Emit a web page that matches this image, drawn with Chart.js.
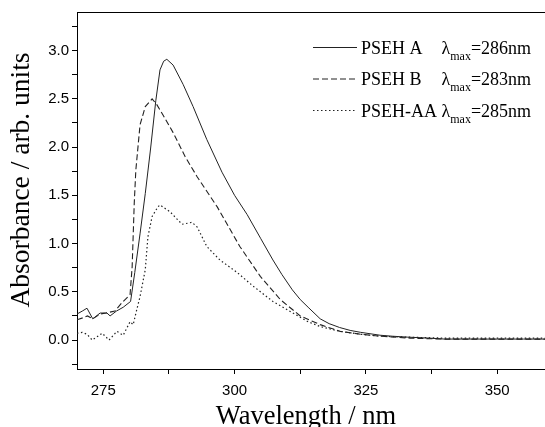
<!DOCTYPE html>
<html>
<head>
<meta charset="utf-8">
<script src="https://cdn.jsdelivr.net/npm/chart.js@4"></script>
<style>
html,body{margin:0;padding:0;background:#fff;overflow:hidden;}
#wrap{width:545px;height:427px;position:relative;}
</style>
</head>
<body>
<div id="wrap"><canvas id="c"></canvas></div>
<script>
// ---- data ----
const seriesNames = ["PSEH A", "PSEH B", "PSEH-AA"];
const lambdaMax = ["=286nm", "=283nm", "=285nm"];

const wlA = [270,271,271.9,273,274.4,275.7,276.3,277.5,278.8,280.2,281,282,283,284,285,285.8,286.5,287.1,288.3,290.2,292.1,294.7,297.6,300,302.4,305,307.3,309,311,312.5,314,316.3,318,320,322,324,327.7,330,333,337,340,345,350,355,360];
const absA = [0.27,0.30,0.33,0.22,0.28,0.28,0.25,0.30,0.34,0.40,0.70,1.10,1.52,1.98,2.48,2.80,2.89,2.91,2.85,2.65,2.42,2.08,1.74,1.50,1.30,1.05,0.83,0.68,0.52,0.42,0.34,0.22,0.17,0.13,0.10,0.08,0.05,0.04,0.03,0.02,0.01,0.01,0.01,0.01,0.01];

const wlB = [270,271.1,272,273,274.4,275.5,277.2,278.6,280.1,280.5,280.9,281.2,282,283,284.3,285.2,286.4,288.3,290.6,292.9,296.7,301,304.9,308.7,312.5,316.3,320.1,324,327.7,333.4,340,350,360];
const absB = [0.21,0.23,0.25,0.22,0.27,0.28,0.30,0.39,0.47,0.76,1.42,1.76,2.23,2.42,2.50,2.44,2.33,2.15,1.90,1.69,1.38,0.97,0.66,0.42,0.25,0.16,0.09,0.06,0.04,0.02,0.01,0.01,0.01];

const wlC = [270,271,271.9,272.9,274.8,276.1,277.6,278.8,280.1,280.7,281.4,282,283,283.5,284.3,285.4,285.8,287.7,290,291.9,292.9,294.7,297.2,300.5,303.5,307.3,311.1,314,316.3,320.1,324,327.7,333,340,350,360];
const absC = [0.07,0.08,0.06,0.00,0.07,0.00,0.09,0.05,0.19,0.16,0.32,0.45,0.73,1.07,1.28,1.38,1.40,1.33,1.20,1.22,1.17,0.97,0.83,0.70,0.56,0.40,0.28,0.19,0.14,0.09,0.06,0.04,0.03,0.02,0.02,0.02];

const xTicks = [275,287.5,300,312.5,325,337.5,350];
const yTicks = [-0.25,0,0.25,0.5,0.75,1,1.25,1.5,1.75,2,2.25,2.5,2.75,3,3.25];
const xTitle = "Wavelength / nm";
const yTitle = "Absorbance / arb. units";

const toXY = (xs, ys) => xs.map((x, i) => ({x: x, y: ys[i]}));
const dashes = [[], [6, 3], [1.5, 2.5]];
const SERIF = '"Liberation Serif", "Times New Roman", serif';

const overlay = {
  id: 'overlay',
  afterDraw(chart) {
    const ctx = chart.ctx, a = chart.chartArea;
    ctx.save();
    // top frame line
    ctx.strokeStyle = '#000'; ctx.lineWidth = 1; ctx.setLineDash([]);
    ctx.beginPath(); ctx.moveTo(a.left, Math.round(a.top) + 0.5); ctx.lineTo(a.right, Math.round(a.top) + 0.5); ctx.stroke();
    // axis titles
    ctx.fillStyle = '#000';
    ctx.textAlign = 'center'; ctx.textBaseline = 'alphabetic';
    ctx.font = '26.5px ' + SERIF;
    ctx.fillText(xTitle, 306, 424);
    ctx.save();
    ctx.font = '27.5px ' + SERIF;
    ctx.translate(29, 180); ctx.rotate(-Math.PI / 2);
    ctx.fillText(yTitle, 0, 0);
    ctx.restore();
    // legend
    const rows = [53.5, 85, 116.5];
    ctx.textAlign = 'left';
    ctx.font = '18px ' + SERIF;
    const lamX = 361 + ctx.measureText(seriesNames[2] + ' ').width;
    for (let i = 0; i < 3; i++) {
      const yb = rows[i];
      ctx.strokeStyle = '#222'; ctx.lineWidth = 1; ctx.setLineDash(dashes[i]);
      ctx.beginPath(); ctx.moveTo(313, yb - 6); ctx.lineTo(357, yb - 6); ctx.stroke();
      ctx.setLineDash([]);
      ctx.font = '18px ' + SERIF;
      ctx.fillText(seriesNames[i], 361, yb);
      let lx = lamX;
      ctx.fillText('\u03bb', lx, yb);
      lx += ctx.measureText('\u03bb').width;
      ctx.font = '12px ' + SERIF;
      ctx.fillText('max', lx, yb + 6);
      lx += ctx.measureText('max').width;
      ctx.font = '18px ' + SERIF;
      ctx.fillText(lambdaMax[i], lx, yb);
    }
    ctx.restore();
  }
};

const isMajorY = v => Math.abs(v * 2 - Math.round(v * 2)) < 1e-6;
const isMajorX = v => Math.abs(v / 25 - Math.round(v / 25)) < 1e-6;

new Chart(document.getElementById('c'), {
  type: 'line',
  data: {
    datasets: [
      {label: seriesNames[0], data: toXY(wlA, absA), borderColor: '#222', borderWidth: 1, borderDash: dashes[0], pointRadius: 0, fill: false, tension: 0},
      {label: seriesNames[1], data: toXY(wlB, absB), borderColor: '#222', borderWidth: 1.1, borderDash: dashes[1], pointRadius: 0, fill: false, tension: 0},
      {label: seriesNames[2], data: toXY(wlC, absC), borderColor: '#222', borderWidth: 1.2, borderDash: dashes[2], pointRadius: 0, fill: false, tension: 0}
    ]
  },
  options: {
    responsive: true,
    maintainAspectRatio: false,
    animation: false,
    layout: {padding: {top: 12, right: 0, left: 0, bottom: 0}},
    plugins: {legend: {display: false}, tooltip: {enabled: false}},
    scales: {
      x: {
        type: 'linear', min: 270, max: 359.1,
        afterBuildTicks: s => { s.ticks = xTicks.map(v => ({value: v})); },
        afterFit: s => { s.height = 58; },
        ticks: {autoSkip: false, maxRotation: 0, color: '#000', padding: 8,
          font: {family: '"Liberation Sans", Arial, sans-serif', size: 15},
          callback: v => isMajorX(v) ? String(v) : ''},
        grid: {drawOnChartArea: false, drawTicks: true, tickLength: 5, color: '#000'},
        border: {display: true, color: '#000', width: 1}
      },
      y: {
        type: 'linear', min: -0.3, max: 3.4,
        afterBuildTicks: s => { s.ticks = yTicks.map(v => ({value: v})); },
        afterFit: s => { s.width = 77; },
        ticks: {autoSkip: false, color: '#000', padding: 3,
          font: {family: '"Liberation Sans", Arial, sans-serif', size: 15},
          callback: v => isMajorY(v) ? v.toFixed(1) : ''},
        grid: {drawOnChartArea: false, drawTicks: true, tickLength: 5, color: '#000'},
        border: {display: true, color: '#000', width: 1}
      }
    }
  },
  plugins: [overlay]
});
</script>
</body>
</html>
